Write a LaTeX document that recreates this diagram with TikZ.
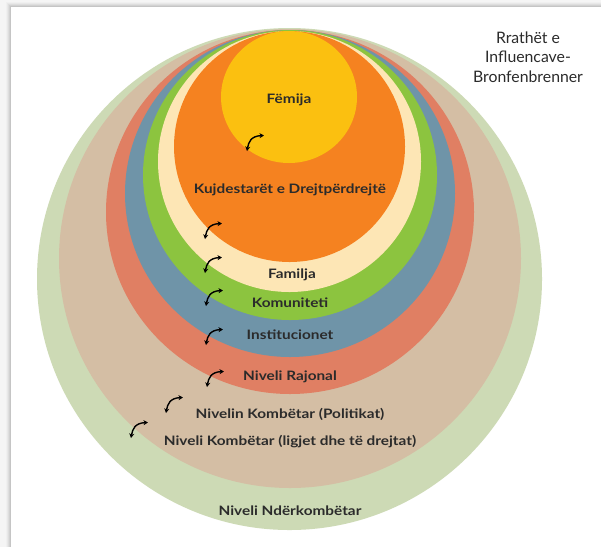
\documentclass[tikz,border=0pt]{standalone}
\usepackage{fontspec}
\setmainfont{Lato}
\newfontfamily\ringfont[FakeStretch=1.18]{Lato}
\usetikzlibrary{arrows.meta}

\definecolor{pagegrey}{HTML}{F5F5F5}
\definecolor{ringintl}{HTML}{CDDAB5}
\definecolor{ringnat}{HTML}{D4BEA4}
\definecolor{ringreg}{HTML}{E07F63}
\definecolor{ringinst}{HTML}{6F94A8}
\definecolor{ringcomm}{HTML}{8CC43F}
\definecolor{ringfam}{HTML}{FDE6B5}
\definecolor{ringcare}{HTML}{F58220}
\definecolor{ringchild}{HTML}{FBC010}
\definecolor{inktext}{HTML}{2B2B2B}

\tikzset{
  ringlabel/.style={font=\ringfont\bfseries\fontsize{13}{15}\selectfont, text=inktext, inner sep=0pt},
  heading/.style={font=\fontsize{15.8}{19.5}\selectfont, text=inktext, align=center, inner sep=0pt},
  turn/.style={line width=1.4pt, black,
    {Stealth[length=4.5pt,width=5pt]}-{Stealth[length=4.5pt,width=5pt]}},
  pics/turnarrow/.style={code={
    \draw[turn] (0,0) .. controls (1.5,-9) and (4,-15) .. (17,-15.5);
  }}
}

\begin{document}
\begin{tikzpicture}[x=1pt,y=-1pt]
\useasboundingbox (0,0) rectangle (601,547);

% page and panel with a soft shadow
\fill[pagegrey] (0,0) rectangle (601,547);
\foreach \d/\o in {5/0.02,4/0.03,3/0.04,2/0.05,1/0.06}
  \fill[black,opacity=\o] (11-\d,7-\d) rectangle (601,547);
\fill[white] (11,7) rectangle (601,547);

% nested rings, outermost first
\fill[ringintl]  (289.5,279)   ellipse [x radius=252.5pt, y radius=251pt];
\fill[ringnat]   (290,258.5)   ellipse [x radius=231pt,   y radius=229.5pt];
\fill[ringreg]   (290,212)     ellipse [x radius=184pt,   y radius=182pt];
\fill[ringinst]  (290,193.5)   ellipse [x radius=165pt,   y radius=163.5pt];
\fill[ringcomm]  (290,175)     ellipse [x radius=147pt,   y radius=145pt];
\fill[ringfam]   (289.5,161.5) ellipse [x radius=131.5pt, y radius=130.5pt];
\fill[ringcare]  (289.5,146.5) ellipse [x radius=115.5pt, y radius=115.5pt];
\fill[ringchild] (289,97)      ellipse [x radius=68pt,    y radius=66pt];

% ring labels
\node[ringlabel] (child)  at (289,100) {Fëmija};
\node[ringlabel] (carers) at (290,190) {Kujdestarët e Drejtpërdrejtë};
\node[ringlabel] (family) at (292,275) {Familja};
\node[ringlabel] (comm)   at (290,303) {Komuniteti};
\node[ringlabel] (inst)   at (290,335) {Institucionet};
\node[ringlabel] (region) at (290,377) {Niveli Rajonal};
\node[ringlabel] (policy) at (290,414) {Nivelin Kombëtar (Politikat)};
\node[ringlabel] (laws)   at (290,442) {Niveli Kombëtar (ligjet dhe të drejtat)};
\node[ringlabel] (intl)   at (290,511) {Niveli Ndërkombëtar};

% heading
\node[heading] (title) at (528,57) {Rrathët e\\Influencave-\\Bronfenbrenner};

% interaction arrows between the rings
\pic at (247,151) {turnarrow};
\pic at (205,239) {turnarrow};
\pic at (205,273) {turnarrow};
\pic at (206,306) {turnarrow};
\pic at (206,345) {turnarrow};
\pic at (207,387) {turnarrow};
\pic at (166,413) {turnarrow};
\pic at (131,438) {turnarrow};
\end{tikzpicture}
\end{document}
